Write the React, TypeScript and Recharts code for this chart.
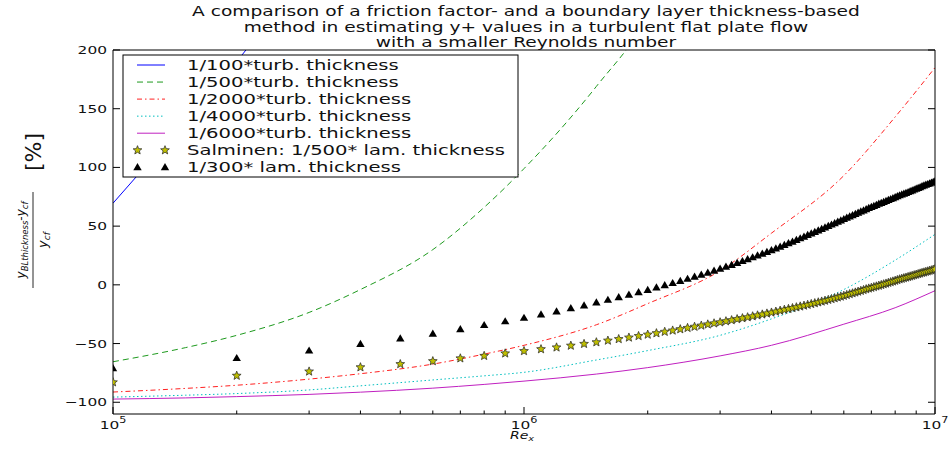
import React from "react";
import { ComposedChart, Line, Scatter, XAxis, YAxis } from "recharts";

// the reference picture is stretched sideways, so text gets the same stretch
const SX = 1.4;
const FONT = "DejaVu Sans";
const INK = "#111";

const titleLines = [
  "A comparison of a friction factor- and a boundary layer thickness-based",
  "method in estimating y+ values in a turbulent flat plate flow",
  "with a smaller Reynolds number",
];

const xMajor = [1e5, 1e6, 1e7];
const xTicks = [
  1e5, 2e5, 3e5, 4e5, 5e5, 6e5, 7e5, 8e5, 9e5,
  1e6, 2e6, 3e6, 4e6, 5e6, 6e6, 7e6, 8e6, 9e6, 1e7,
];
const yTicks = [-100, -50, 0, 50, 100, 150, 200];

// Re where the turbulent curves were read
const reLine = [1e5, 1.5e5, 2e5, 3e5, 4e5, 6e5, 8e5, 1e6, 1.5e6, 2e6, 3e6, 4e6, 6e6, 8e6, 1e7];
const re100 = [1e5, 1.2e5, 1.5e5, 2e5, 2.5e5];

const turb100 = [69.5, 101, 140, 190, 235];
const turb500 = [-65.5, -53.5, -43, -23.5, -4, 30, 66, 99, 169, 228, 380];
const turb2000 = [-91.3, -88.2, -85.5, -80.3, -75.7, -67.5, -59, -51.5, -34, -16, 12, 44, 93, 143, 185];
const turb4000 = [-95.6, -94, -92.6, -89.5, -86, -81, -77.5, -74.5, -64, -56, -43, -29, -4, 21, 43];
const turb6000 = [-97.3, -96.3, -95.2, -93.3, -91.4, -88, -84.8, -82, -76, -70.5, -60.5, -51.5, -33.5, -19.5, -5];

// marker Re, in units of 1e5
const reMarkers = [
  1, 2, 3, 4, 5, 6, 7, 8, 9, 10,
  11, 12, 13, 14, 15, 16, 17, 18, 19, 20,
  21, 22, 23, 24, 25, 26, 27, 28, 29, 30,
  31, 32, 33, 34, 35, 36, 37, 38, 39, 40,
  41, 42, 43, 44, 45, 46, 47, 48, 49, 50,
  51, 52, 53, 54, 55, 56, 57, 58, 59, 60,
  61, 62, 63, 64, 65, 66, 67, 68, 69, 70,
  71, 72, 73, 74, 75, 76, 77, 78, 79, 80,
  81, 82, 83, 84, 85, 86, 87, 88, 89, 90,
  91, 92, 93, 94, 95, 96, 97, 98, 99, 100,
];

const salminen = [
  -83, -77.4, -73.8, -70.2, -67.5, -65, -62.6, -60.5, -58.4, -56.4,
  -54.8, -53.3, -51.8, -50.3, -48.9, -47.5, -46.2, -44.9, -43.6, -42.4,
  -41.2, -40.0, -38.9, -37.8, -36.7, -35.7, -34.7, -33.7, -32.8, -31.9,
  -31.0, -30.1, -29.2, -28.4, -27.6, -26.8, -26.0, -25.2, -24.4, -23.6,
  -22.8, -22.0, -21.2, -20.5, -19.8, -19.1, -18.4, -17.7, -17.0, -16.3,
  -15.6, -14.9, -14.2, -13.5, -12.8, -12.1, -11.4, -10.7, -10.0, -9.3,
  -8.6, -7.9, -7.2, -6.5, -5.8, -5.1, -4.4, -3.7, -3.1, -2.5,
  -1.9, -1.3, -0.7, -0.1, 0.5, 1.1, 1.7, 2.3, 2.9, 3.5,
  4.1, 4.7, 5.2, 5.7, 6.2, 6.7, 7.2, 7.7, 8.2, 8.7,
  9.2, 9.7, 10.2, 10.6, 11.1, 11.5, 12.0, 12.4, 12.9, 13.3,
];

const lam300 = [
  -71, -62.4, -56, -50.3, -45.7, -41.6, -37.8, -34.3, -31.1, -28.1,
  -25.3, -22.6, -20.0, -17.5, -15.1, -12.8, -10.6, -8.4, -6.3, -4.3,
  -2.3, -0.4, 1.5, 3.3, 5.1, 6.9, 8.6, 10.3, 12.0, 13.7,
  15.4, 17.0, 18.6, 20.2, 21.8, 23.4, 25.0, 26.5, 28.0, 29.5,
  31.0, 32.5, 34.0, 35.4, 36.8, 38.2, 39.6, 41.0, 42.4, 43.7,
  45.0, 46.3, 47.6, 48.9, 50.1, 51.3, 52.5, 53.7, 54.9, 56.0,
  57.1, 58.2, 59.3, 60.4, 61.4, 62.4, 63.4, 64.4, 65.4, 66.3,
  67.2, 68.1, 69.0, 69.8, 70.6, 71.4, 72.2, 73.0, 73.8, 74.6,
  75.4, 76.2, 76.9, 77.6, 78.3, 79.0, 79.7, 80.4, 81.1, 81.8,
  82.5, 83.2, 83.9, 84.6, 85.2, 85.8, 86.4, 87.0, 87.6, 88.2,
];

const zip = (xs: number[], ys: number[]) => ys.map((v, i) => ({ re: xs[i], v }));

const lines = [
  { name: "1/100*turb. thickness", data: zip(re100, turb100), color: "#0000ff", dash: undefined },
  { name: "1/500*turb. thickness", data: zip(reLine, turb500), color: "#1e9a1e", dash: "6 4" },
  { name: "1/2000*turb. thickness", data: zip(reLine, turb2000), color: "#ff2020", dash: "5 3 1.5 3" },
  { name: "1/4000*turb. thickness", data: zip(reLine, turb4000), color: "#00bfbf", dash: "1.5 2.5" },
  { name: "1/6000*turb. thickness", data: zip(reLine, turb6000), color: "#c020c0", dash: undefined },
];

const starData = zip(reMarkers.map((k) => k * 1e5), salminen);
const triData = zip(reMarkers.map((k) => k * 1e5), lam300);

function starPath(cx: number, cy: number, R: number, r: number) {
  let d = "";
  for (let i = 0; i < 10; i++) {
    const a = -Math.PI / 2 + (i * Math.PI) / 5;
    const rad = i % 2 === 0 ? R : r;
    d += (i === 0 ? "M" : "L") + (cx + rad * Math.cos(a)).toFixed(2) + "," + (cy + rad * Math.sin(a)).toFixed(2);
  }
  return d + "Z";
}

const Star = ({ cx, cy }: any) => (
  <path d={starPath(cx, cy, 4.6, 2)} fill="#bfbf00" stroke="#222" strokeWidth={0.7} />
);
const Tri = ({ cx, cy }: any) => (
  <path d={`M${cx},${cy - 4.2}L${cx + 4.2},${cy + 3}L${cx - 4.2},${cy + 3}Z`} fill="#000" />
);

// stretched text helper
function SText({ x, y, size, anchor = "start", children, italic }: any) {
  return (
    <g transform={`translate(${x},${y}) scale(${SX},1)`}>
      <text textAnchor={anchor} fontSize={size} fontFamily={FONT} fill={INK} fontStyle={italic ? "italic" : "normal"}>
        {children}
      </text>
    </g>
  );
}

// plot box
const LEFT = 113;
const RIGHT = 935;
const TOP = 50;
const BOTTOM = 414;

const BottomTick = ({ x, payload }: any) => {
  const v = payload.value;
  const major = xMajor.includes(v);
  return (
    <g>
      <line x1={x} x2={x} y1={BOTTOM} y2={BOTTOM - (major ? 7 : 3.5)} stroke="#000" />
      {major && (
        <SText x={x} y={BOTTOM + 15} size={11} anchor="middle">
          10<tspan dy={-6} fontSize={8}>{Math.round(Math.log10(v))}</tspan>
        </SText>
      )}
    </g>
  );
};

const TopTick = ({ x, payload }: any) => {
  const major = xMajor.includes(payload.value);
  return <line x1={x} x2={x} y1={TOP} y2={TOP + (major ? 7 : 3.5)} stroke="#000" />;
};

const LeftTick = ({ y, payload }: any) => {
  const v = payload.value;
  const label = v < 0 ? "\u2212" + Math.abs(v) : String(v);
  return (
    <g>
      <line x1={LEFT} x2={LEFT + 7} y1={y} y2={y} stroke="#000" />
      <SText x={LEFT - 6} y={y + 4} size={11} anchor="end">
        {label}
      </SText>
    </g>
  );
};

const RightTick = ({ y }: any) => <line x1={RIGHT} x2={RIGHT - 7} y1={y} y2={y} stroke="#000" />;

function Overlay() {
  const legendY = 65;
  const step = 17.05;
  return (
    <svg width={948} height={450} style={{ position: "absolute", left: 0, top: 0, pointerEvents: "none" }}>
      {titleLines.map((t, i) => (
        <SText key={t} x={526} y={16 + i * 15.5} size={13.3} anchor="middle">
          {t}
        </SText>
      ))}

      {/* y label: (y_BLthickness - y_cf) / y_cf [%] */}
      <g transform="translate(33,240) rotate(-90)" fontFamily={FONT} fill={INK}>
        <text x={0} y={-8} textAnchor="middle" fontSize={12} fontStyle="italic">
          y<tspan fontSize={8.5} dy={3}>BLthickness</tspan>
          <tspan fontSize={12} dy={-3} fontStyle="normal">-</tspan>y
          <tspan fontSize={8.5} dy={3}>cf</tspan>
        </text>
        <line x1={-48} x2={48} y1={0} y2={0} stroke={INK} strokeWidth={0.9} />
        <text x={0} y={14} textAnchor="middle" fontSize={13} fontStyle="italic">
          y<tspan fontSize={9} dy={3}>cf</tspan>
        </text>
        <text x={88} y={8} textAnchor="middle" fontSize={22}>
          [%]
        </text>
      </g>

      <SText x={522} y={439} size={10} anchor="middle" italic>
        Re<tspan fontSize={7} dy={2}>x</tspan>
      </SText>

      {/* legend */}
      <rect x={123} y={55} width={395} height={122} fill="#fff" stroke="#000" strokeWidth={1} />
      {lines.map((l, i) => (
        <g key={l.name}>
          <line x1={137} x2={165} y1={legendY + i * step} y2={legendY + i * step} stroke={l.color} strokeDasharray={l.dash} strokeWidth={1} />
          <SText x={187} y={legendY + i * step + 5} size={14}>
            {l.name}
          </SText>
        </g>
      ))}
      <Star cx={137.5} cy={legendY + 5 * step} />
      <Star cx={165} cy={legendY + 5 * step} />
      <SText x={187} y={legendY + 5 * step + 5} size={14}>
        Salminen: 1/500* lam. thickness
      </SText>
      <Tri cx={137.5} cy={legendY + 6 * step} />
      <Tri cx={165} cy={legendY + 6 * step} />
      <SText x={187} y={legendY + 6 * step + 5} size={14}>
        1/300* lam. thickness
      </SText>
    </svg>
  );
}

export default function App() {
  return (
    <div style={{ position: "absolute", left: 0, top: 0, width: 948, height: 450, background: "#fff" }}>
      <ComposedChart width={948} height={450} margin={{ top: 0, right: 0, bottom: 0, left: 0 }}>
        <XAxis
          xAxisId="b"
          dataKey="re"
          type="number"
          scale="log"
          domain={[1e5, 1e7]}
          allowDataOverflow
          ticks={xTicks}
          interval={0}
          height={450 - BOTTOM}
          tickLine={false}
          axisLine={{ stroke: "#000" }}
          tick={<BottomTick />}
        />
        <XAxis
          xAxisId="t"
          orientation="top"
          type="number"
          scale="log"
          domain={[1e5, 1e7]}
          allowDataOverflow
          ticks={xTicks}
          interval={0}
          height={TOP}
          tickLine={false}
          axisLine={{ stroke: "#000" }}
          tick={<TopTick />}
        />
        <YAxis
          yAxisId="l"
          dataKey="v"
          type="number"
          domain={[-110, 200]}
          allowDataOverflow
          ticks={yTicks}
          interval={0}
          width={LEFT}
          tickLine={false}
          axisLine={{ stroke: "#000" }}
          tick={<LeftTick />}
        />
        <YAxis
          yAxisId="r"
          orientation="right"
          type="number"
          domain={[-110, 200]}
          allowDataOverflow
          ticks={yTicks}
          interval={0}
          width={948 - RIGHT}
          tickLine={false}
          axisLine={{ stroke: "#000" }}
          tick={<RightTick />}
        />
        {lines.map((l) => (
          <Line
            key={l.name}
            xAxisId="b"
            yAxisId="l"
            data={l.data}
            dataKey="v"
            type="monotone"
            stroke={l.color}
            strokeWidth={1}
            strokeDasharray={l.dash}
            dot={false}
            activeDot={false}
            isAnimationActive={false}
          />
        ))}
        <Scatter xAxisId="b" yAxisId="l" data={starData} dataKey="v" shape={<Star />} isAnimationActive={false} />
        <Scatter xAxisId="b" yAxisId="l" data={triData} dataKey="v" shape={<Tri />} isAnimationActive={false} />
      </ComposedChart>
      <Overlay />
    </div>
  );
}
